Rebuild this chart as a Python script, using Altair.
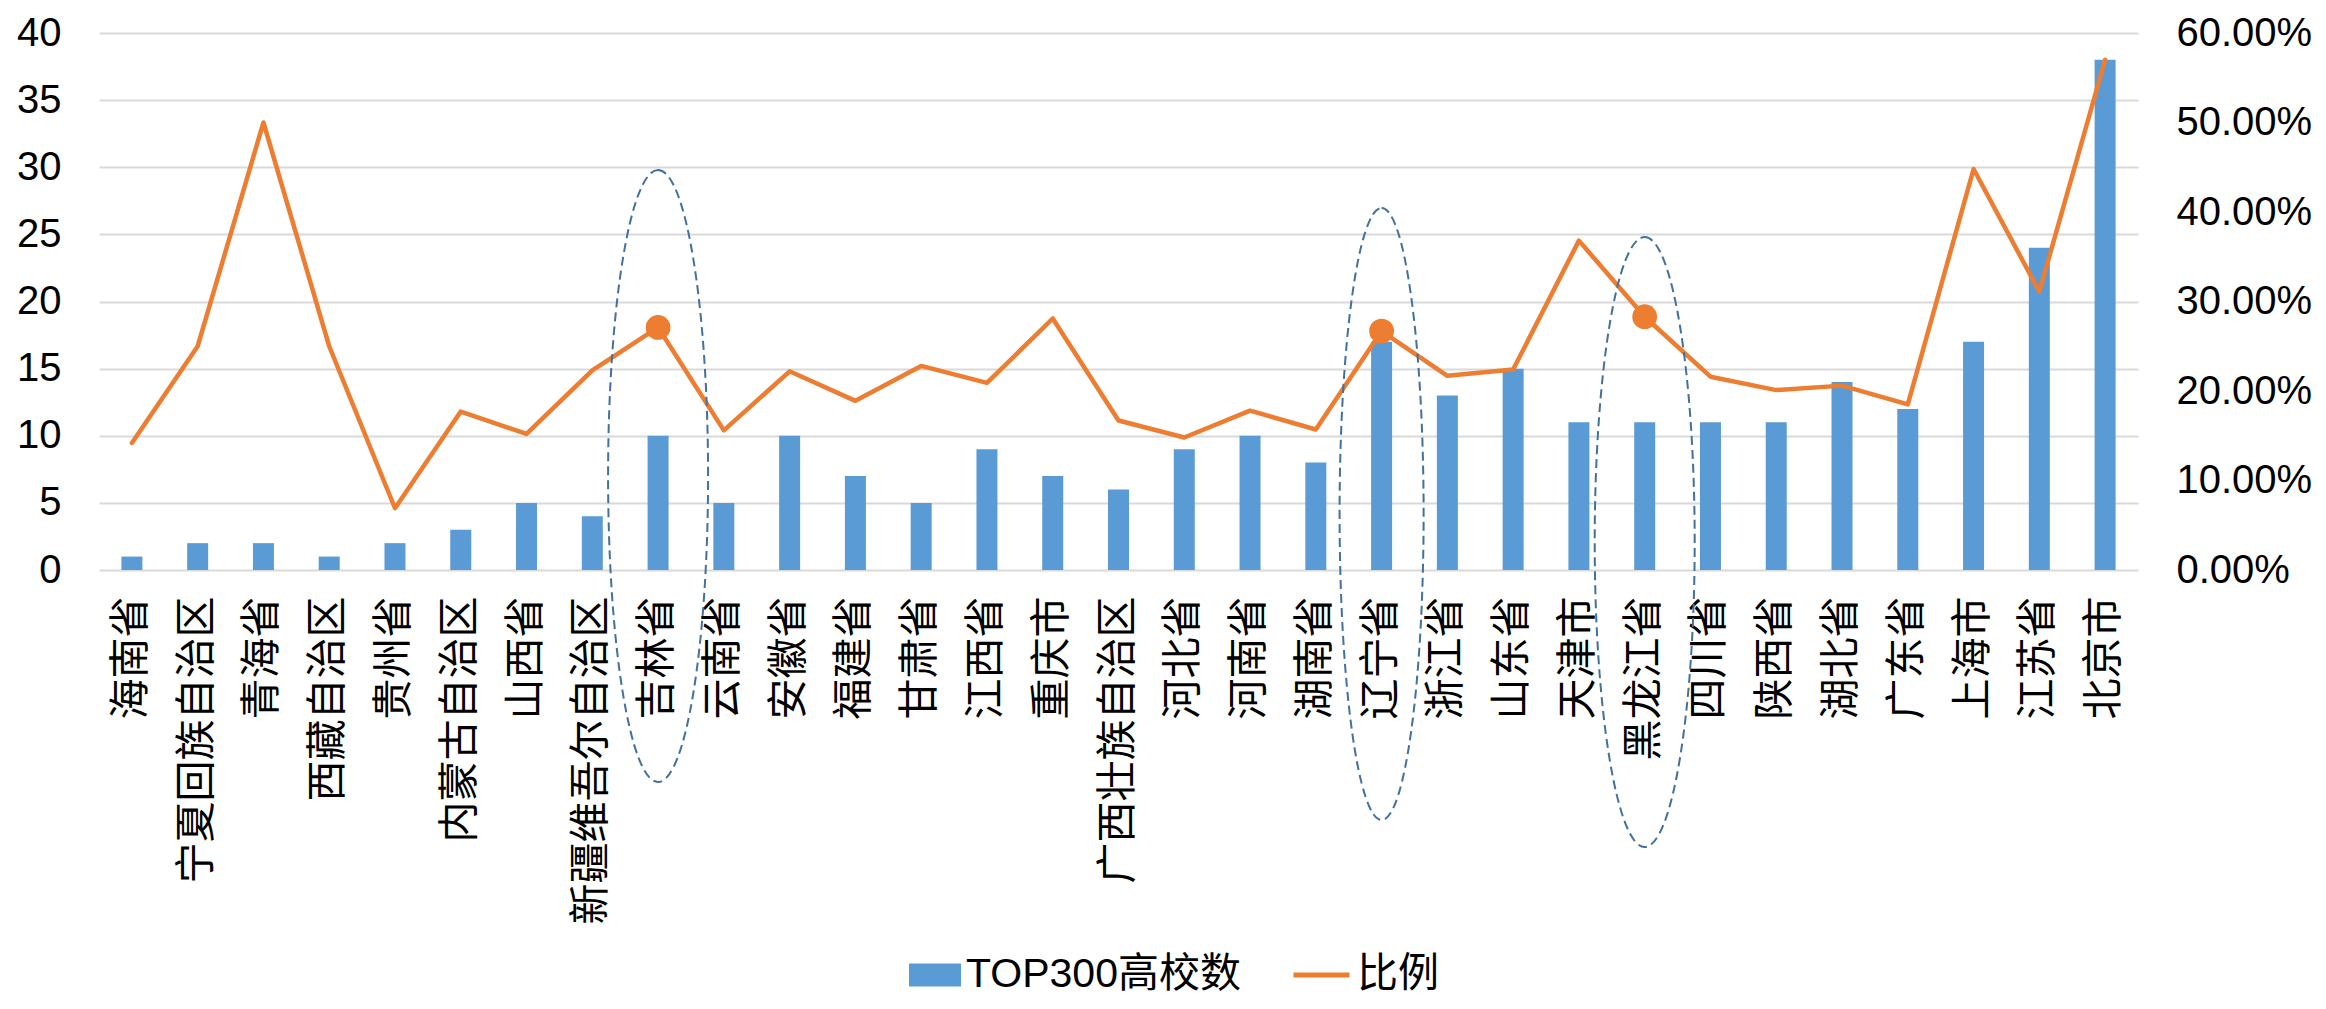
import altair as alt
import pandas as pd

provinces = ["海南省", "宁夏回族自治区", "青海省", "西藏自治区", "贵州省", "内蒙古自治区",
             "山西省", "新疆维吾尔自治区", "吉林省", "云南省", "安徽省", "福建省", "甘肃省",
             "江西省", "重庆市", "广西壮族自治区", "河北省", "河南省", "湖南省", "辽宁省",
             "浙江省", "山东省", "天津市", "黑龙江省", "四川省", "陕西省", "湖北省", "广东省",
             "上海市", "江苏省", "北京市"]
counts = [1, 2, 2, 1, 2, 3, 5, 4, 10, 5, 10, 7, 5, 9, 7, 6, 9, 10, 8, 17,
          13, 15, 11, 11, 11, 11, 14, 12, 17, 24, 38]
ratio_pct = [14.2, 25.0, 50.0, 25.0, 6.9, 17.7, 15.2, 22.3, 27.1, 15.6, 22.2, 18.9, 22.8,
             20.9, 28.1, 16.7, 14.8, 17.8, 15.7, 26.7, 21.7, 22.4, 36.8, 28.3, 21.6, 20.1,
             20.6, 18.5, 44.8, 31.1, 57.0]
highlight = ["吉林省", "辽宁省", "黑龙江省"]
series_names = ["TOP300高校数", "比例"]
left_ticks = [0, 5, 10, 15, 20, 25, 30, 35, 40]
right_ticks = [0, 0.1, 0.2, 0.3, 0.4, 0.5, 0.6]

df = pd.DataFrame({
    "省份": provinces,
    "高校数": counts,
    "比例": [v / 100 for v in ratio_pct],
    "s1": series_names[0],
    "s2": series_names[1],
})

W, H = 2039, 537
NUM_FONT = "Liberation Sans, Arial, sans-serif"
CJK_FONT = "Noto Sans CJK SC, sans-serif"
MIX_FONT = "Liberation Sans, Noto Sans CJK SC, sans-serif"
BLUE = "#5B9BD5"
ORANGE = "#ED7D31"

x_enc = alt.X(
    "省份:N", sort=provinces,
    scale=alt.Scale(paddingInner=0, paddingOuter=0),
    axis=alt.Axis(title=None, labelAngle=270, labelFont=CJK_FONT, labelFontSize=41,
                  labelColor="#000000", labelPadding=26, labelLimit=600, labelOverlap=False,
                  ticks=False, tickSize=0, domain=False, grid=False),
)

base = alt.Chart(df)

bars = base.mark_bar(width=21).encode(
    x=x_enc,
    y=alt.Y("高校数:Q", scale=alt.Scale(domain=[0, 40], nice=False),
            axis=alt.Axis(title=None, values=left_ticks, grid=True, gridColor="#D9D9D9",
                          gridWidth=2, domain=False, ticks=False, tickSize=0,
                          labelFont=NUM_FONT, labelFontSize=40, labelColor="#000000",
                          labelPadding=38)),
    fill=alt.Fill("s1:N", scale=alt.Scale(domain=[series_names[0]], range=[BLUE]),
                  legend=alt.Legend(title=None, orient="none", legendX=810, legendY=916,
                                    symbolType="M-1,-0.44H1V0.44H-1Z", symbolSize=2704,
                                    symbolStrokeWidth=0, labelFont=MIX_FONT,
                                    labelFontSize=41, labelColor="#000000", labelOffset=5,
                                    padding=0, labelLimit=600)),
)

line = base.mark_line(strokeWidth=4.5, strokeJoin="round", strokeCap="round").encode(
    x=x_enc,
    y=alt.Y("比例:Q", scale=alt.Scale(domain=[0, 0.6], nice=False),
            axis=alt.Axis(title=None, orient="right", format=".2%", values=right_ticks,
                          grid=False, domain=False, ticks=False, tickSize=0,
                          labelFont=NUM_FONT, labelFontSize=40, labelColor="#000000",
                          labelPadding=38)),
    stroke=alt.Stroke("s2:N", scale=alt.Scale(domain=[series_names[1]], range=[ORANGE]),
                      legend=alt.Legend(title=None, orient="none", legendX=1192, legendY=911.5,
                                        symbolType="stroke", symbolSize=3136,
                                        symbolStrokeWidth=5, labelFont=CJK_FONT,
                                        labelFontSize=41, labelColor="#000000",
                                        labelOffset=5, padding=0)),
)

dots = base.mark_circle(size=615, opacity=1, color=ORANGE).encode(
    x=x_enc,
    y=alt.Y("比例:Q", scale=alt.Scale(domain=[0, 0.6], nice=False), axis=None),
).transform_filter(alt.FieldOneOfPredicate(field="省份", oneOf=highlight))


def ellipse(prov, cy, w, h):
    rx = w / h
    path = f"M0,-1 A{rx:.4f},1 0 0 1 0,1 A{rx:.4f},1 0 0 1 0,-1 Z"
    return base.mark_point(shape=path, size=h * h, filled=False, stroke="#41719C",
                           strokeWidth=2, strokeDash=[9, 5], opacity=1).encode(
        x=x_enc, y=alt.value(cy)
    ).transform_filter(alt.datum["省份"] == prov)


e1 = ellipse("吉林省", 443, 100, 612)
e2 = ellipse("辽宁省", 481, 84, 612)
e3 = ellipse("黑龙江省", 509, 100, 610)

chart = alt.layer(bars, line, dots, e1, e2, e3).resolve_scale(
    y="independent"
).properties(
    width=W, height=H,
    autosize=alt.AutoSizeParams(type="none"),
    padding={"left": 91, "top": 25, "right": 180, "bottom": 431},
    background="white",
).configure_view(stroke=None)

chart.save("out.html", embed_options={"renderer": "svg", "actions": False})
